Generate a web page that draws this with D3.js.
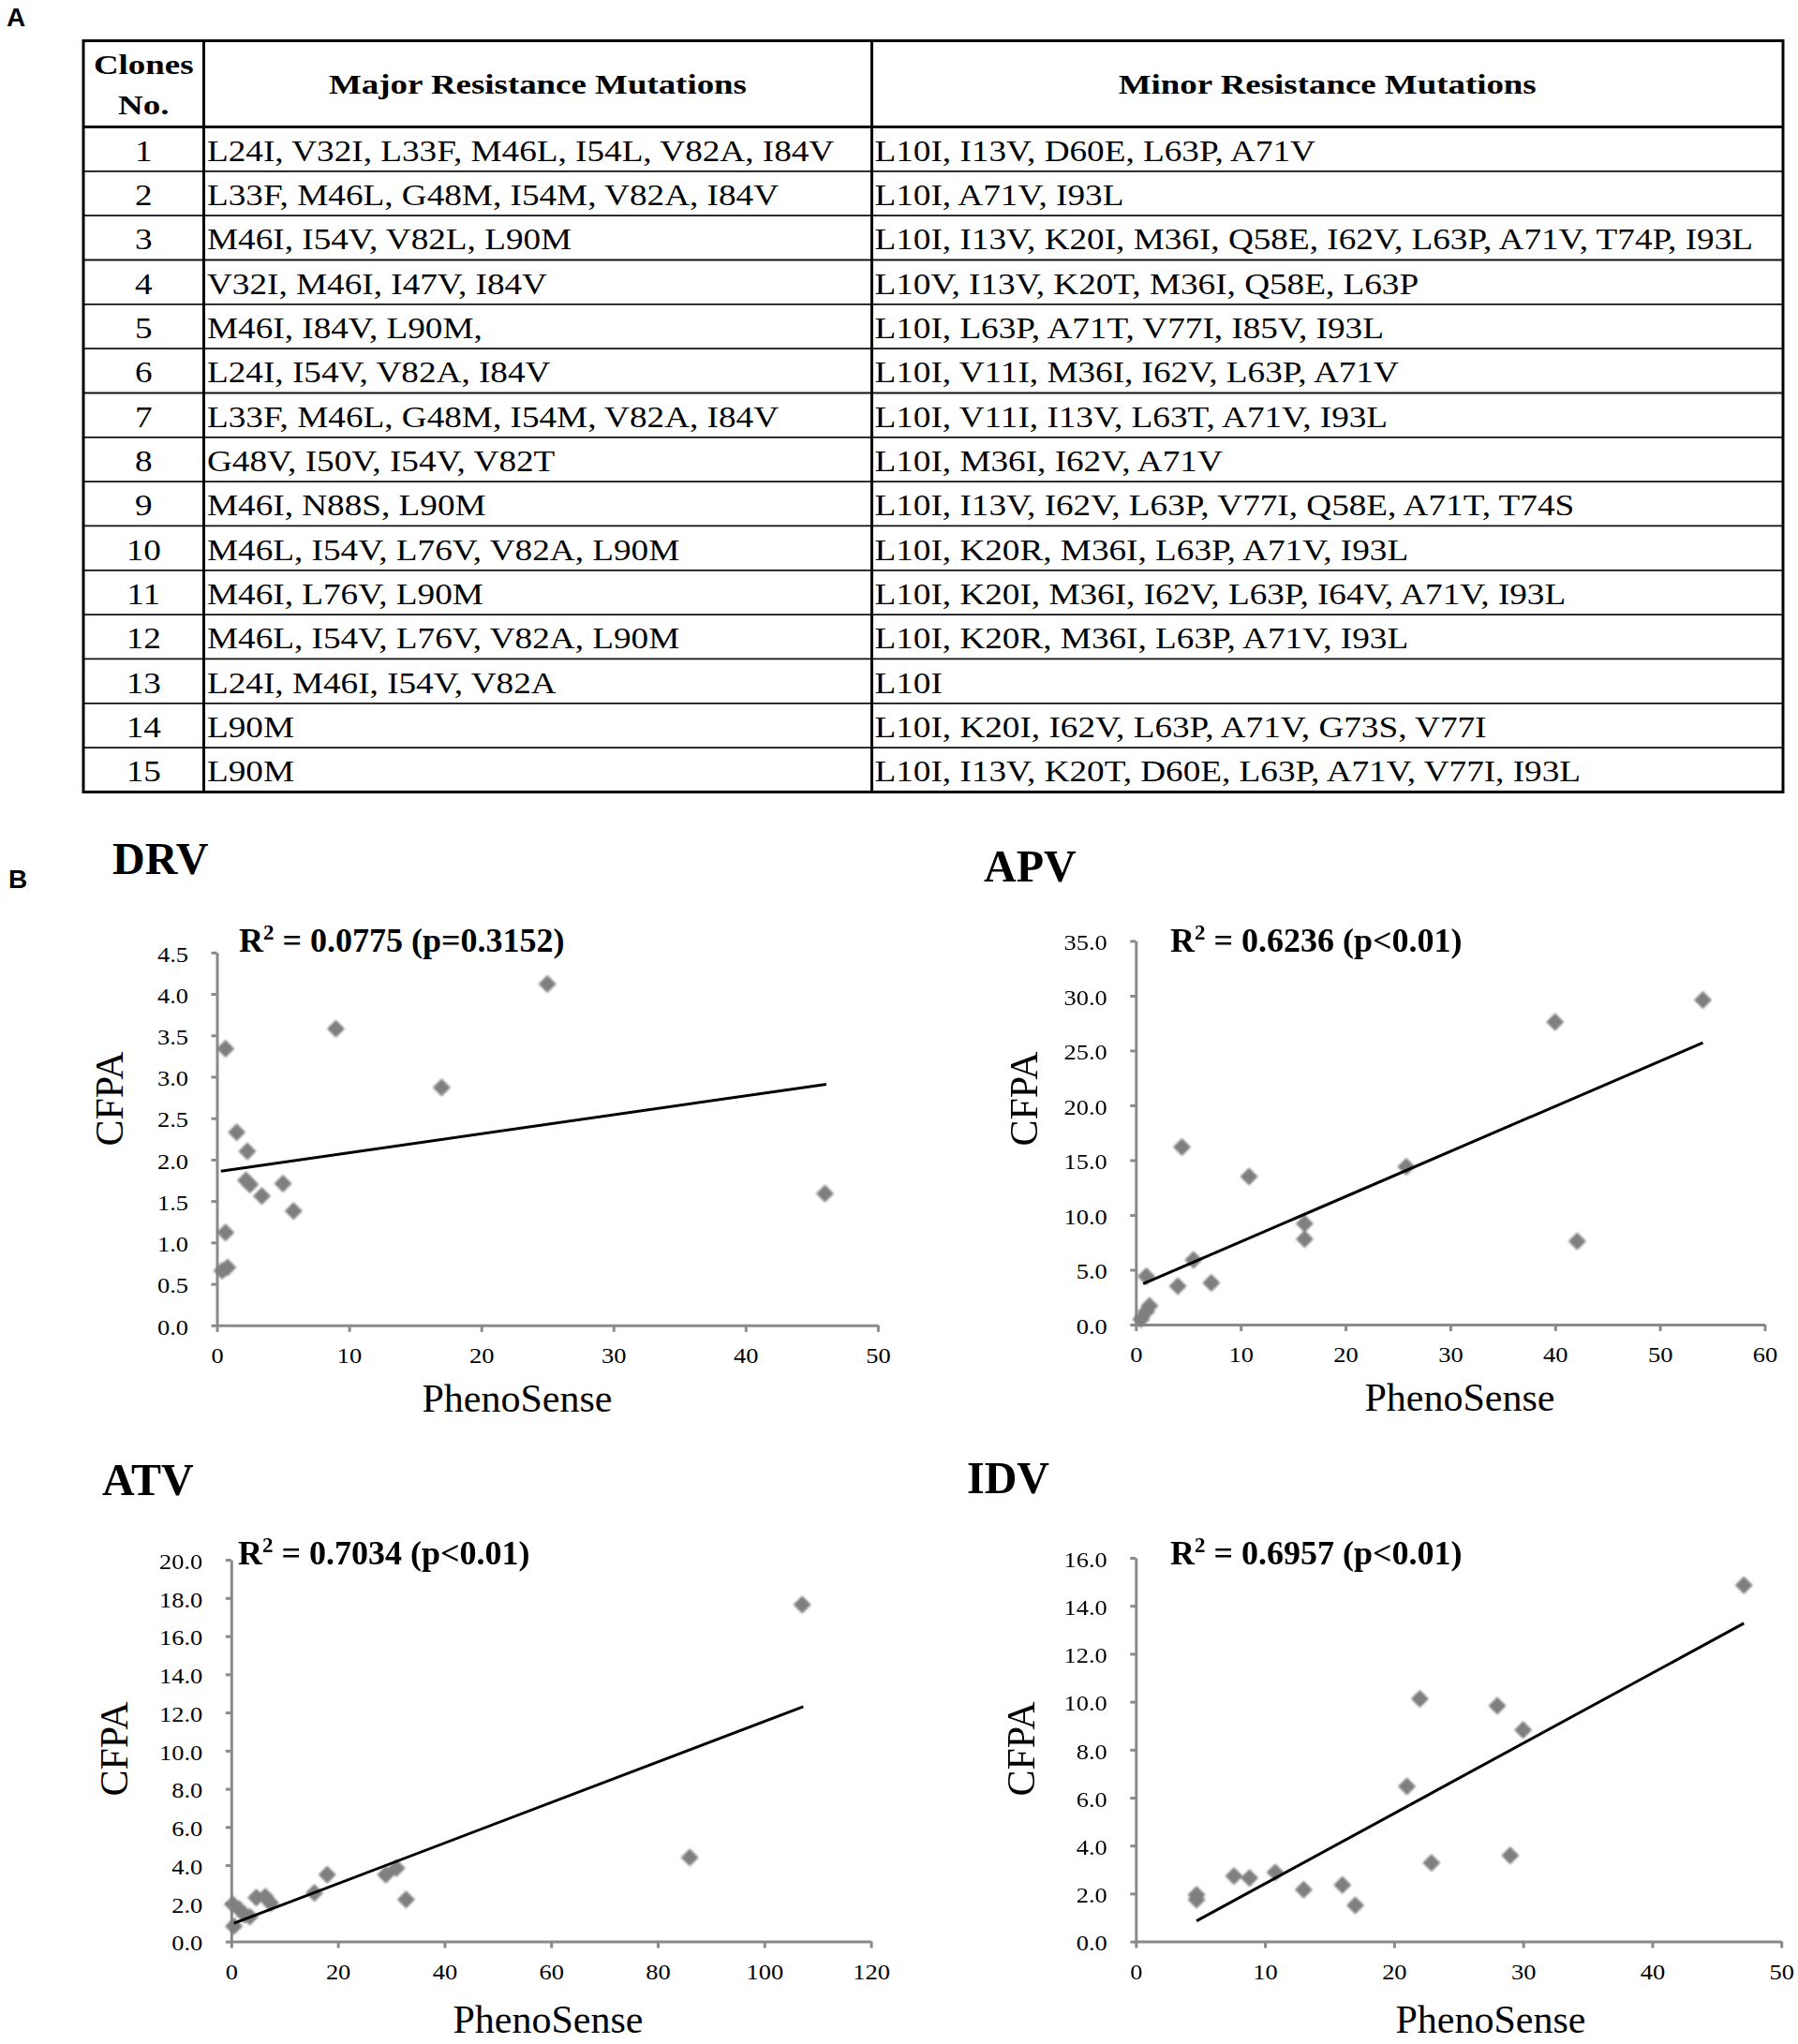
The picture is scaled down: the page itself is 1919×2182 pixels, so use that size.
<!DOCTYPE html>
<meta charset="utf-8">
<style>
  body { margin: 0; background: #fff; }
  svg { display: block; background: #fff; }
</style>
<svg width="1919" height="2182"></svg>
<script src="https://cdn.jsdelivr.net/npm/d3@7"></script>
<script>

// ---- table A data ----
var clones = [1, 2, 3, 4, 5, 6, 7, 8, 9, 10, 11, 12, 13, 14, 15];
var headers = ["Clones|No.", "Major Resistance Mutations", "Minor Resistance Mutations"];
var majorMut = [
  "L24I, V32I, L33F, M46L, I54L, V82A, I84V",
  "L33F, M46L, G48M, I54M, V82A, I84V",
  "M46I, I54V, V82L, L90M",
  "V32I, M46I, I47V, I84V",
  "M46I, I84V, L90M,",
  "L24I, I54V, V82A, I84V",
  "L33F, M46L, G48M, I54M, V82A, I84V",
  "G48V, I50V, I54V, V82T",
  "M46I, N88S, L90M",
  "M46L, I54V, L76V, V82A, L90M",
  "M46I, L76V, L90M",
  "M46L, I54V, L76V, V82A, L90M",
  "L24I, M46I, I54V, V82A",
  "L90M",
  "L90M"
];
var minorMut = [
  "L10I, I13V, D60E, L63P, A71V",
  "L10I, A71V, I93L",
  "L10I, I13V, K20I, M36I, Q58E, I62V, L63P, A71V, T74P, I93L",
  "L10V, I13V, K20T, M36I, Q58E, L63P",
  "L10I, L63P, A71T, V77I, I85V, I93L",
  "L10I, V11I, M36I, I62V, L63P, A71V",
  "L10I, V11I, I13V, L63T, A71V, I93L",
  "L10I, M36I, I62V, A71V",
  "L10I, I13V, I62V, L63P, V77I, Q58E, A71T, T74S",
  "L10I, K20R, M36I, L63P, A71V, I93L",
  "L10I, K20I, M36I, I62V, L63P, I64V, A71V, I93L",
  "L10I, K20R, M36I, L63P, A71V, I93L",
  "L10I",
  "L10I, K20I, I62V, L63P, A71V, G73S, V77I",
  "L10I, I13V, K20T, D60E, L63P, A71V, V77I, I93L"
];

// ---- scatter B data (PhenoSense fold change vs CFPA) ----
var drugs = ["DRV", "APV", "ATV", "IDV"];
var drvPheno = [0.65, 9.0, 25.0, 17.0, 1.5, 2.3, 2.2, 2.5, 5.0, 3.4, 5.8, 46.0, 0.65, 0.8, 0.4];
var drvCfpa  = [3.34, 3.58, 4.12, 2.87, 2.33, 2.10, 1.75, 1.70, 1.71, 1.56, 1.38, 1.59, 1.12, 0.70, 0.66];
var apvPheno = [54.1, 40.0, 4.4, 10.8, 25.8, 16.1, 16.1, 42.1, 5.5, 1.0, 4.0, 7.2, 1.3, 1.0, 0.5];
var apvCfpa  = [29.6, 27.6, 16.2, 13.5, 14.4, 9.2, 7.8, 7.6, 5.9, 4.4, 3.5, 3.8, 1.7, 1.2, 0.5];
var atvPheno = [107.1, 86.0, 18.0, 31.0, 29.0, 32.8, 15.6, 4.7, 6.4, 7.4, 0.3, 1.5, 2.5, 3.5, 0.5];
var atvCfpa  = [17.65, 4.4, 3.5, 3.85, 3.5, 2.2, 2.55, 2.3, 2.35, 2.0, 1.95, 1.7, 1.4, 1.3, 0.8];
var idvPheno = [47.1, 22.0, 28.0, 30.0, 21.0, 22.9, 29.0, 7.6, 8.8, 10.8, 13.0, 16.0, 17.0, 4.7, 4.7];
var idvCfpa  = [14.86, 10.12, 9.83, 8.82, 6.47, 3.28, 3.59, 2.73, 2.65, 2.88, 2.16, 2.36, 1.51, 1.95, 1.74];
// linear trend lines, end points
var drvTrend = [[0.3, 1.86], [46.1, 2.91]];
var apvTrend = [[0.7, 3.72], [54.1, 25.72]];
var atvTrend = [[0.5, 0.96], [107.3, 12.31]];
var idvTrend = [[4.7, 0.86], [47.1, 13.27]];
var r2Values = ["0.0775", "0.6236", "0.7034", "0.6957"];
var pValues  = ["p=0.3152", "p<0.01", "p<0.01", "p<0.01"];
var drvXTicks = [0, 10, 20, 30, 40, 50];
var drvYTicks = [0, 0.5, 1, 1.5, 2, 2.5, 3, 3.5, 4, 4.5];
var apvXTicks = [0, 10, 20, 30, 40, 50, 60];
var apvYTicks = [0, 5, 10, 15, 20, 25, 30, 35];
var atvXTicks = [0, 20, 40, 60, 80, 100, 120];
var atvYTicks = [0, 2, 4, 6, 8, 10, 12, 14, 16, 18, 20];
var idvXTicks = [0, 10, 20, 30, 40, 50];
var idvYTicks = [0, 2, 4, 6, 8, 10, 12, 14, 16];

var serif = "'Liberation Serif', 'Times New Roman', serif";
var sans = "'Liberation Sans', Arial, sans-serif";
var svg = d3.select("svg");

// panel letters
svg.append("text").attr("x", 7).attr("y", 28).text("A")
  .style("font-family", sans).style("font-weight", "bold").style("font-size", "28px");
svg.append("text").attr("x", 9).attr("y", 948).text("B")
  .style("font-family", sans).style("font-weight", "bold").style("font-size", "28px");

// ---------------- table ----------------
var T = {left: 89, right: 1903, top: 43.5, head: 135.5, c1: 217.5, c2: 930.5, rowH: 47.33};
var rowY = d3.scaleBand().domain(clones).range([T.head, T.head + T.rowH * clones.length]);
var bottom = rowY.range()[1];
var tbl = svg.append("g");

// row separators
tbl.selectAll("line.row")
  .data(clones.slice(1))
  .enter().append("line")
    .attr("x1", T.left).attr("x2", T.right)
    .attr("y1", d => rowY(d)).attr("y2", d => rowY(d))
    .style("stroke", "#111").style("stroke-width", 1.8);

// thick lines: header bottom, outer box, column dividers
tbl.append("line").attr("x1", T.left).attr("x2", T.right).attr("y1", T.head).attr("y2", T.head)
  .style("stroke", "#000").style("stroke-width", 3);
[T.c1, T.c2].forEach(function(cx) {
  tbl.append("line").attr("x1", cx).attr("x2", cx).attr("y1", T.top).attr("y2", bottom)
    .style("stroke", "#000").style("stroke-width", 3);
});
tbl.append("rect").attr("x", T.left).attr("y", T.top)
  .attr("width", T.right - T.left).attr("height", bottom - T.top)
  .style("fill", "none").style("stroke", "#000").style("stroke-width", 3);

function stretched(g, txt, x, y, size, sx, anchor, bold) {
  return g.append("text")
    .attr("transform", "translate(" + x + "," + y + ") scale(" + sx + ",1)")
    .attr("text-anchor", anchor)
    .style("font-family", serif)
    .style("font-size", size + "px")
    .style("font-weight", bold ? "bold" : "normal")
    .text(txt);
}

// header
var c1mid = (T.left + T.c1) / 2;
headers[0].split("|").forEach(function(t, i) {
  stretched(tbl, t, c1mid, 78.5 + i * 43.3, 30, 1.23, "middle", true);
});
stretched(tbl, headers[1], (T.c1 + T.c2) / 2, 100, 30, 1.23, "middle", true);
stretched(tbl, headers[2], (T.c2 + T.right) / 2, 100, 30, 1.23, "middle", true);

// rows
clones.forEach(function(c, i) {
  var base = rowY(c) + 36.3;
  stretched(tbl, String(c), c1mid, base, 31, 1.2, "middle", false);
  stretched(tbl, majorMut[i], T.c1 + 3.5, base, 31, 1.2, "start", false);
  stretched(tbl, minorMut[i], T.c2 + 3, base, 31, 1.2, "start", false);
});

// ---------------- scatter plots ----------------
var defs = svg.append("defs");
defs.append("filter").attr("id", "soft")
  .append("feGaussianBlur").attr("stdDeviation", 0.8);

var panelData = [
  {xs: drvPheno, ys: drvCfpa, trend: drvTrend, xt: drvXTicks, yt: drvYTicks},
  {xs: apvPheno, ys: apvCfpa, trend: apvTrend, xt: apvXTicks, yt: apvYTicks},
  {xs: atvPheno, ys: atvCfpa, trend: atvTrend, xt: atvXTicks, yt: atvYTicks},
  {xs: idvPheno, ys: idvCfpa, trend: idvTrend, xt: idvXTicks, yt: idvYTicks}
];
// layout of each panel (pixels)
var frames = [
  {x0: 231.5, x1: 936.9, y0: 1414.8, y1: 1016.8, title: [120, 933], r2: [255, 1016], cfpa: [131, 1173], pheno: [552, 1507]},
  {x0: 1212.3, x1: 1883.5, y0: 1414, y1: 1004.4, title: [1050, 941], r2: [1249, 1016], cfpa: [1107, 1173], pheno: [1558, 1506]},
  {x0: 246.8, x1: 929.6, y0: 2072.6, y1: 1665.1, title: [109, 1596], r2: [254, 1670], cfpa: [136, 1867], pheno: [585, 2170]},
  {x0: 1212.3, x1: 1901.2, y0: 2072.6, y1: 1663, title: [1032, 1594], r2: [1249, 1670], cfpa: [1104, 1867], pheno: [1591, 2170]}
];

var diamond = d3.symbol().type(d3.symbolSquare).size(180);
var axisColor = "#8a8a8a";

panelData.forEach(function(pd, k) {
  var f = frames[k];
  var g = svg.append("g");
  var x = d3.scaleLinear().domain([0, d3.max(pd.xt)]).range([f.x0, f.x1]);
  var y = d3.scaleLinear().domain([0, d3.max(pd.yt)]).range([f.y0, f.y1]);

  // title
  g.append("text").attr("x", f.title[0]).attr("y", f.title[1]).text(drugs[k])
    .style("font-family", serif).style("font-weight", "bold").style("font-size", "48px");

  // R^2 label
  var r = g.append("text").attr("x", f.r2[0]).attr("y", f.r2[1])
    .style("font-family", serif).style("font-weight", "bold").style("font-size", "36px");
  r.append("tspan").text("R");
  r.append("tspan").attr("dy", -13).style("font-size", "23px").text("2");
  r.append("tspan").attr("dy", 13).text(" = " + r2Values[k] + " (" + pValues[k] + ")");

  // axes
  var xAxis = g.append("g").attr("transform", "translate(0," + f.y0 + ")")
    .call(d3.axisBottom(x).tickValues(pd.xt).tickSizeInner(7).tickSizeOuter(0).tickFormat(d3.format("d")));
  xAxis.selectAll("text").attr("y", 40.5).attr("dy", 0)
    .attr("transform", "scale(1.15,1)");
  var yAxis = g.append("g").attr("transform", "translate(" + f.x0 + ",0)")
    .call(d3.axisLeft(y).tickValues(pd.yt).tickSizeInner(6).tickSizeOuter(0).tickFormat(d3.format(".1f")));
  yAxis.selectAll("text").attr("x", -26.5).attr("dy", "0.4em")
    .attr("transform", "scale(1.15,1)");
  [xAxis, yAxis].forEach(function(a) {
    a.selectAll("path, line").style("stroke", axisColor).style("stroke-width", 3);
    a.selectAll("text").style("font-family", serif).style("font-size", "23px").style("fill", "#000");
  });

  // axis titles
  g.append("text").attr("transform", "translate(" + f.cfpa[0] + "," + f.cfpa[1] + ") rotate(-90)")
    .attr("text-anchor", "middle").text("CFPA")
    .style("font-family", serif).style("font-size", "42px");
  g.append("text").attr("x", f.pheno[0]).attr("y", f.pheno[1])
    .attr("text-anchor", "middle").text("PhenoSense")
    .style("font-family", serif).style("font-size", "42px");

  // points
  g.append("g").attr("filter", "url(#soft)")
    .selectAll("path")
    .data(pd.xs.map((v, i) => [v, pd.ys[i]]))
    .enter().append("path")
      .attr("d", diamond)
      .attr("transform", d => "translate(" + x(d[0]) + "," + y(d[1]) + ") rotate(45)")
      .style("fill", "#7f7f7f");

  // trend line
  g.append("path")
    .datum(pd.trend)
    .attr("d", d3.line().x(d => x(d[0])).y(d => y(d[1])))
    .style("fill", "none").style("stroke", "#000").style("stroke-width", 3);
});

</script>
